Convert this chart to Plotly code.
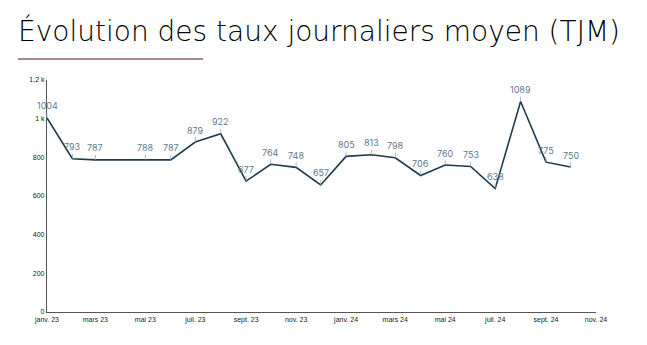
import plotly.graph_objects as go

months = ["2023-01-01", "2023-02-01", "2023-03-01", "2023-05-01", "2023-06-01",
          "2023-07-01", "2023-08-01", "2023-09-01", "2023-10-01", "2023-11-01",
          "2023-12-01", "2024-01-01", "2024-02-01", "2024-03-01", "2024-04-01",
          "2024-05-01", "2024-06-01", "2024-07-01", "2024-08-01", "2024-09-01",
          "2024-10-01"]
tjm = [1004, 793, 787, 788, 787, 879, 922, 677, 764, 748, 657,
       805, 813, 798, 706, 760, 753, 638, 1089, 775, 750]

x_tickvals = ["2023-01-01", "2023-03-01", "2023-05-01", "2023-07-01", "2023-09-01",
              "2023-11-01", "2024-01-01", "2024-03-01", "2024-05-01", "2024-07-01",
              "2024-09-01", "2024-11-01"]
x_ticktext = ["janv. 23", "mars 23", "mai 23", "juil. 23", "sept. 23", "nov. 23",
              "janv. 24", "mars 24", "mai 24", "juil. 24", "sept. 24", "nov. 24"]
y_tickvals = [0, 200, 400, 600, 800, 1000, 1200]
y_ticktext = ["0", "200", "400", "600", "800", "1 k", "1,2 k"]

LINE = "#1e3a4c"
LABEL = "#5e7b8c"

fig = go.Figure()
fig.add_trace(go.Scatter(x=months, y=tjm, mode="lines",
                         line=dict(color=LINE, width=1.6), hoverinfo="skip"))

for xv, yv in zip(months, tjm):
    fig.add_annotation(x=xv, y=yv, text=str(yv), showarrow=True, arrowhead=0,
                       arrowwidth=0.8, arrowcolor="#9aaab5", ax=0, ay=-12,
                       font=dict(family="Inter", size=9, color=LABEL))

fig.add_shape(type="line", xref="paper", yref="paper", x0=-0.053, x1=0.284,
              y0=1.09, y1=1.09, line=dict(color="#8c5d6c", width=1.5))

fig.update_layout(
    width=647, height=345,
    margin=dict(l=47, r=51, t=80, b=33),
    paper_bgcolor="white", plot_bgcolor="white",
    showlegend=False,
    title=dict(text="Évolution des taux journaliers moyen (TJM)",
               x=0.028, xanchor="left", y=0.88, yanchor="bottom",
               font=dict(family="DejaVu Sans", size=28, color="#000000", weight=300)),
    xaxis=dict(type="date", range=["2023-01-01", "2024-11-01"],
               tickvals=x_tickvals, ticktext=x_ticktext,
               showgrid=False, zeroline=False, showline=True,
               linecolor="#555555", linewidth=1.2, ticks="",
               tickfont=dict(family="Liberation Sans", size=7, color="#222222")),
    yaxis=dict(range=[0, 1200], tickvals=y_tickvals, ticktext=y_ticktext,
               showgrid=False, zeroline=False, showline=True,
               linecolor="#555555", linewidth=1.2, ticks="",
               tickfont=dict(family="Liberation Sans", size=7, color="#222222")),
)

fig.write_html("out.html")
